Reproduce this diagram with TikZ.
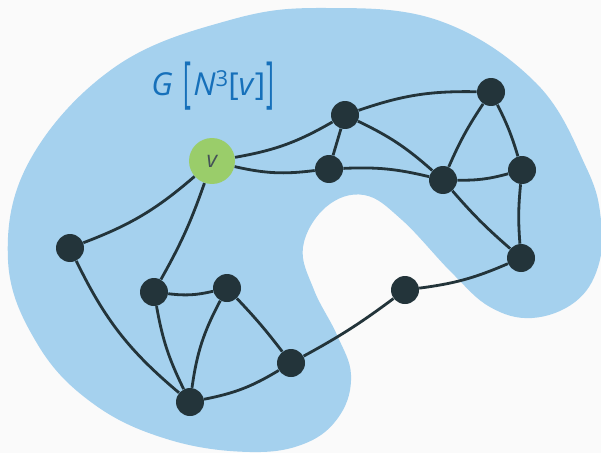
\documentclass[tikz,border=0pt]{standalone}
\usepackage{fontspec}
\setmainfont{Open Sans}
\usepackage{graphicx}
\definecolor{bg}{RGB}{250,250,250}
\definecolor{blob}{RGB}{165,209,238}
\definecolor{dk}{RGB}{35,52,58}
\definecolor{gr}{RGB}{154,205,106}
\definecolor{lbl}{RGB}{22,112,186}
\tikzset{
  vx/.style={circle,fill=dk,minimum size=0.56cm,inner sep=0pt},
  vv/.style={circle,fill=gr,minimum size=0.92cm,inner sep=0pt,font=\fontsize{13}{15}\selectfont\itshape,text=dk!85},
  ed/.style={draw=dk,line width=1.6pt},
}
\newcommand{\tallbr}[1]{\raisebox{-0.35ex}{\scalebox{0.75}[1.75]{#1}}}
\begin{document}
\begin{tikzpicture}[x=0.02cm,y=-0.02cm]
\fill[bg] (0,0) rectangle (601,453);
\useasboundingbox (0,0) rectangle (601,453);
\fill[blob] plot[smooth cycle,tension=0.65] coordinates {
 (326,8) (440,21) (536,83) (586,167) (601,220) (598,267) (575,302) (532,318)
 (490,307) (452,273) (402,220) (364,195) (326,207) (303,247) (314,290)
 (337,335) (351,375) (340,415) (306,443) (250,452) (170,440) (95,405) (38,345)
 (8,260) (30,160) (115,67) (230,20)};
\node[font=\fontsize{18}{21}\selectfont,text=lbl,inner sep=0pt] (lab) at (213,86)
  {\textit{G}\hspace{0.35em}\tallbr{[}\hspace{0.05em}\textit{N}\raisebox{0.55ex}{\fontsize{12.5}{13}\selectfont 3}[\textit{v}]\hspace{0.05em}\tallbr{]}};
\node[vv] (v) at (212,161) {v};
\node[vx] (A) at (345,115) {};
\node[vx] (B) at (491,92) {};
\node[vx] (C) at (329,169) {};
\node[vx] (D) at (443,180) {};
\node[vx] (E) at (522,170) {};
\node[vx] (F) at (521,258) {};
\node[vx] (G) at (405,290) {};
\node[vx] (H) at (70,248) {};
\node[vx] (I) at (154,292) {};
\node[vx] (J) at (227,288) {};
\node[vx] (K) at (291,363) {};
\node[vx] (L) at (190,402) {};
\draw[ed] (v) to[bend right=10] (A);
\draw[ed] (v) to[bend right=10] (C);
\draw[ed] (v) to[bend left=10] (H);
\draw[ed] (v) to[bend left=5] (I);
\draw[ed] (A) to[bend left=10] (B);
\draw[ed] (A) to (C);
\draw[ed] (A) to[bend left=8] (D);
\draw[ed] (C) to[bend left=8] (D);
\draw[ed] (B) to[bend right=5] (D);
\draw[ed] (B) to[bend left=5] (E);
\draw[ed] (D) to[bend right=8] (E);
\draw[ed] (D) to[bend right=4] (F);
\draw[ed] (E) to[bend right=5] (F);
\draw[ed] (F) to[bend left=8] (G);
\draw[ed] (G) to[bend left=4] (K);
\draw[ed] (K) to[bend right=3] (J);
\draw[ed] (K) to[bend left=10] (L);
\draw[ed] (L) to[bend left=12] (H);
\draw[ed] (L) to[bend left=8] (I);
\draw[ed] (L) to[bend left=10] (J);
\draw[ed] (I) to[bend right=10] (J);
\end{tikzpicture}
\end{document}
